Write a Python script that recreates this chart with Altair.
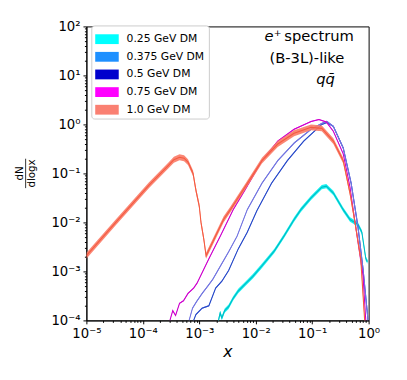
import altair as alt
import pandas as pd

series_names = ["0.25 GeV DM", "0.375 GeV DM", "0.5 GeV DM", "0.75 GeV DM", "1.0 GeV DM"]
legend_colors = ["#00ffff", "#1e90ff", "#0000cd", "#ff00ff", "#fa8072"]
band_colors = ["#00f0f0", "#6a78e0", "#4a60d0", "#e000e0", "#fa7a66"]
line_colors = ["#00bcc4", "#2448c8", "#7474e2", "#cc00cc", "#f45a40"]
band_dex = [0.045, 0.014, 0.014, 0.01, 0.06]

# log10(x), log10(dN/dlogx)
x_025 = [-2.66, -2.63, -2.6, -2.55, -2.48, -2.4, -2.31, -2.18, -2.05, -1.9, -1.67, -1.5, -1.32, -1.2, -1.02, -0.83, -0.75, -0.625, -0.45, -0.33, -0.19, -0.12, -0.05, -0.02]
y_025 = [-4.0, -3.85, -3.95, -3.8, -3.72, -3.55, -3.4, -3.25, -3.1, -2.9, -2.58, -2.28, -1.94, -1.74, -1.5, -1.28, -1.26, -1.4, -1.74, -1.94, -2.04, -2.2, -2.74, -2.8]

x_0375 = [-3.1, -3.06, -2.95, -2.83, -2.71, -2.6, -2.48, -2.31, -2.15, -1.98, -1.72, -1.44, -1.15, -0.83, -0.74, -0.625, -0.45, -0.31, -0.19, -0.1, -0.01]
y_0375 = [-4.0, -3.88, -3.75, -3.7, -3.34, -3.2, -2.98, -2.54, -2.2, -1.76, -1.2, -0.74, -0.34, 0.0, 0.04, -0.04, -0.48, -1.2, -2.08, -2.94, -4.0]

x_05 = [-3.18, -3.12, -3.05, -2.95, -2.85, -2.76, -2.62, -2.48, -2.33, -2.15, -1.89, -1.61, -1.32, -1.02, -0.83, -0.74, -0.625, -0.45, -0.31, -0.19, -0.1, -0.01]
y_05 = [-4.0, -3.75, -3.62, -3.45, -3.3, -3.16, -2.88, -2.6, -2.28, -1.74, -1.2, -0.74, -0.38, -0.1, 0.02, 0.06, -0.04, -0.48, -1.2, -2.08, -2.94, -4.0]

x_075 = [-3.52, -3.47, -3.42, -3.35, -3.28, -3.2, -3.1, -3.04, -2.83, -2.62, -2.4, -2.19, -1.89, -1.61, -1.32, -1.02, -0.88, -0.75, -0.625, -0.45, -0.33, -0.23, -0.1, -0.05]
y_075 = [-4.0, -3.8, -3.9, -3.65, -3.6, -3.45, -3.34, -3.24, -2.74, -2.26, -1.74, -1.34, -0.74, -0.34, -0.1, 0.06, 0.1, 0.05, -0.14, -0.6, -1.28, -2.08, -3.08, -4.0]

x_10 = [-5.0, -4.48, -3.89, -3.55, -3.45, -3.35, -3.27, -3.2, -3.11, -3.06, -3.0, -2.97, -2.92, -2.88, -2.57, -2.45, -2.19, -1.89, -1.61, -1.32, -1.02, -0.83, -0.625, -0.45, -0.33, -0.23, -0.14, -0.07]
y_10 = [-2.68, -2.0, -1.24, -0.84, -0.72, -0.67, -0.69, -0.77, -1.0, -1.34, -1.67, -2.0, -2.34, -2.68, -1.94, -1.74, -1.28, -0.74, -0.4, -0.18, -0.06, -0.08, -0.34, -0.74, -1.4, -2.08, -2.74, -4.0]

all_x = [x_025, x_0375, x_05, x_075, x_10]
all_y = [y_025, y_0375, y_05, y_075, y_10]

frames = []
for name, xs, ys, w in zip(series_names, all_x, all_y, band_dex):
    frames.append(pd.DataFrame({
        "series": name,
        "x": [10 ** lx for lx in xs],
        "y": [10 ** ly for ly in ys],
        "ylo": [10 ** (ly - w) for ly in ys],
        "yhi": [10 ** (ly + w) for ly in ys],
    }))

x_exps = [-5, -4, -3, -2, -1, 0]
y_exps = [-4, -3, -2, -1, 0, 1, 2]
sup = {"-": "\u207b", "0": "\u2070", "1": "\u00b9", "2": "\u00b2", "3": "\u00b3",
       "4": "\u2074", "5": "\u2075"}
def sup_label(e):
    return "10" + "".join(sup[c] for c in str(e))

major_test = "abs(log(datum.value)/LN10 - round(log(datum.value)/LN10)) < 1e-6"
def label_expr(exps):
    expr = "''"
    for e in reversed(exps):
        expr = f"(round(log(datum.value)/LN10) == {e} ? '{sup_label(e)}' : {expr})"
    return f"{major_test} ? {expr} : ''"

def tick_values(exps):
    vals = []
    for e in exps[:-1]:
        for m in range(1, 10):
            vals.append(m * 10.0 ** e)
    vals.append(10.0 ** exps[-1])
    return vals

tick_size = {"condition": {"test": major_test, "value": 3.5}, "value": 2}

common_axis = dict(
    labelFont="DejaVu Sans", labelFontSize=13.5, labelColor="black",
    domainColor="black", tickColor="black", grid=False, labelOverlap=False,
    labelFlush=False, labelPadding=3, tickSize=tick_size,
    titleFont="DejaVu Sans", titleColor="black", titleFontWeight="normal",
)

x_scale = alt.Scale(type="log", domain=[1e-5, 1], nice=False)
y_scale = alt.Scale(type="log", domain=[1e-4, 100], nice=False)
x_axis = alt.Axis(values=tick_values(x_exps), labelExpr=label_expr(x_exps),
                  title="x", titleFontSize=16, titleFontStyle="italic",
                  titlePadding=4, **common_axis)
y_axis = alt.Axis(values=tick_values(y_exps), labelExpr=label_expr(y_exps),
                  title=None, **common_axis)

fill_scale = alt.Scale(domain=series_names, range=legend_colors)
legend = alt.Legend(title=None, orient="none", legendX=5, legendY=-1,
                    symbolType="M-1.2,-0.5H1.2V0.5H-1.2Z", symbolSize=400,
                    symbolOpacity=1, symbolStrokeWidth=0, symbolOffset=2,
                    labelFont="DejaVu Sans", labelFontSize=11,
                    labelColor="black", labelOffset=10,
                    fillColor="white", strokeColor="#cccccc",
                    cornerRadius=3, padding=4, rowPadding=3)

layers = []
for k, (name, fr) in enumerate(zip(series_names, frames)):
    band = alt.Chart(fr).mark_area(clip=True, color=band_colors[k], opacity=0.9).encode(
        x=alt.X("x:Q", scale=x_scale, axis=x_axis),
        y=alt.Y("ylo:Q", scale=y_scale, axis=y_axis),
        y2="yhi:Q",
    )
    line = alt.Chart(fr).mark_line(clip=True, strokeWidth=1.1, color=line_colors[k]).encode(
        x="x:Q", y="y:Q",
    )
    layers += [band, line]

# legend-only layer
legend_df = pd.DataFrame({"series": series_names, "x": [1e-9] * 5, "y": [1e-9] * 5})
legend_layer = alt.Chart(legend_df).mark_point(clip=True, opacity=0).encode(
    x="x:Q", y="y:Q",
    fill=alt.Fill("series:N", scale=fill_scale, legend=legend),
)

one = pd.DataFrame({"a": [0]})
def txt(s, x, y, align="center", style="normal", size=15, angle=0):
    return alt.Chart(one).mark_text(font="DejaVu Sans", fontSize=size, align=align,
                                    baseline="middle", fontStyle=style, color="black",
                                    angle=angle).encode(
        x=alt.value(x), y=alt.value(y), text=alt.value(s))

annots = [
    txt("e\u207a", 199, 10, align="right", style="italic"),
    txt("spectrum", 202, 10, align="left"),
    txt("(B-3L)-like", 225, 32),
    txt("q\u0071\u0304", 244, 54, style="italic"),
    # y-axis title as a fraction dN / dlogx
    txt("dN", -68, 150, size=10.5, angle=270),
    txt("dlogx", -55, 150, size=10.5, angle=270),
]
frac_bar = alt.Chart(one).mark_rule(color="black", strokeWidth=0.8).encode(
    x=alt.value(-62), y=alt.value(135), y2=alt.value(165))

chart = alt.layer(*layers, legend_layer, *annots, frac_bar).properties(
    width=288, height=300,
    padding={"left": 80, "top": 15, "right": 31, "bottom": 57},
    autosize=alt.AutoSizeParams(type="none"),
).configure_view(stroke="black", strokeWidth=1)

chart.save("out.html", embed_options={"renderer": "svg", "actions": False})
